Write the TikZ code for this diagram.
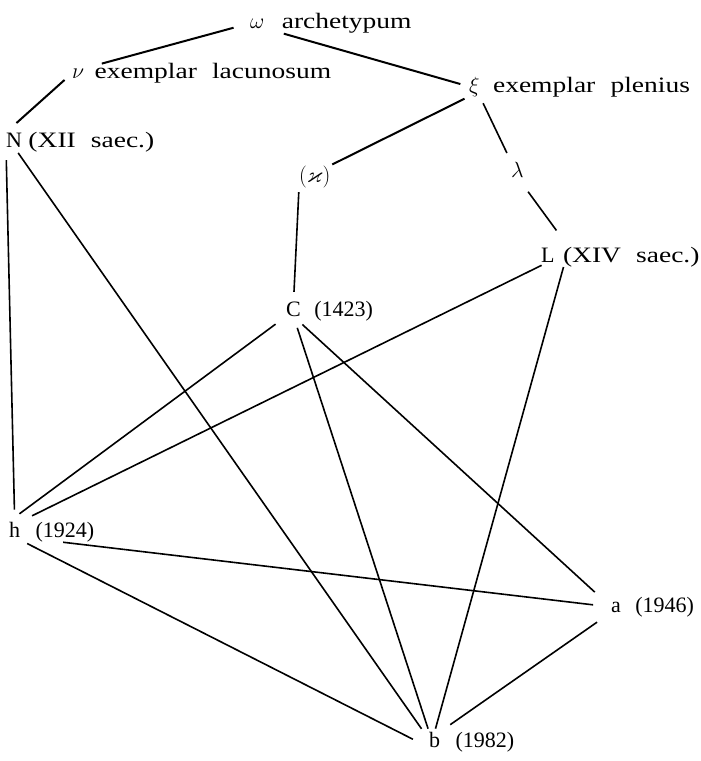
\RequirePackage{fix-cm}
\documentclass[tikz,border=0pt]{standalone}
\usepackage{amssymb}
\usepackage{fontspec}
\setmainfont{Liberation Serif}
\newfontfamily\widefont[FakeStretch=1.25, WordSpace=2.2]{Liberation Serif}
\usetikzlibrary{positioning}

\tikzset{
    sig/.style={inner sep=0pt, anchor=base west, font=\fontsize{22}{26}\selectfont},
    note/.style={inner sep=0pt, anchor=base west, font=\fontsize{22}{26}\widefont},
    year/.style={inner sep=0pt, anchor=base west, font=\fontsize{22}{26}\selectfont},
    edge/.style={line width=1.6pt},
}

\begin{document}
\begin{tikzpicture}[x=1pt, y=-1pt]
    \useasboundingbox (0,0) rectangle (701,761);

    % Draw nodes
    \node[sig] (om) at (250,28) {$\omega$};
    \node[sig] (nu) at (72,78) {$\nu$};
    \node[sig] (xi) at (469,92) {$\xi$};
    \node[sig] (N) at (6,147) {N};
    \node[sig] (ka) at (299,182) {$(\varkappa)$};
    \node[sig] (la) at (511,177) {$\lambda$};
    \node[sig] (L) at (541,262) {L};
    \node[sig] (C) at (286,316) {C};
    \node[sig] (h) at (9,537) {h};
    \node[sig] (a) at (611,612) {a};
    \node[sig] (b) at (429,747) {b};

    % Labels
    \node[note] (omt) at ([xshift=17pt]om.base east) {archetypum};
    \node[note] (nut) at ([xshift=10pt]nu.base east) {exemplar lacunosum};
    \node[note] (xit) at ([xshift=13pt]xi.base east) {exemplar plenius};
    \node[note] (Nt) at ([xshift=6pt]N.base east) {(XII saec.)};
    \node[note] (Lt) at ([xshift=8pt]L.base east) {(XIV saec.)};
    \node[year] (Ct) at ([xshift=13pt]C.base east) {(1423)};
    \node[year] (ht) at ([xshift=15pt]h.base east) {(1924)};
    \node[year] (at) at ([xshift=14pt]a.base east) {(1946)};
    \node[year] (bt) at ([xshift=15pt]b.base east) {(1982)};

    % Draw connections
    \draw[edge, line width=2pt, shorten <=17pt, shorten >=18pt] (om.west) -- (nu.north east);
    \draw[edge, line width=2pt, shorten <=20pt, shorten >=9pt] (om.south east) -- (xi.west);
    \draw[edge, line width=2pt, shorten <=10pt, shorten >=14pt] (nu.west) -- (N.north west);
    \draw[edge, line width=2pt, shorten <=5pt, shorten >=2pt] (xi.south west) -- (ka.north east);
    \draw[edge, shorten <=7.5pt, shorten >=9.5pt] (xi.south east) -- (la.north west);
    \draw[edge, shorten <=18pt, shorten >=21pt] (la.south) -- ([xshift=14pt]L.north east);
    \draw[edge, shorten <=4.5pt, shorten >=9.4pt] (ka.south west) -- (C.north);
    \draw[edge, shorten <=13pt, shorten >=12pt] (N.south west) -- (h.north);
    \draw[edge, shorten <=7pt, shorten >=13pt] (N.south) -- (b.west);
    \draw[edge, shorten <=13pt, shorten >=13pt] (C.south west) -- (h.north west);
    \draw[edge, shorten <=12pt, shorten >=3pt] (C.south) -- (b.north west);
    \draw[edge, shorten <=12pt, shorten >=22pt] (C.south) -- (a.west);
    \draw[edge, shorten <=7pt, shorten >=13pt] (L.south) -- (h.north east);
    \draw[edge, shorten <=5pt, shorten >=3pt] ([xshift=10pt]L.south east) -- (b.north);
    \draw[edge, shorten <=43pt, shorten >=18pt] (h.south east) -- (a.west);
    \draw[edge, shorten <=14pt, shorten >=18pt] (h.south) -- (b.south west);
    \draw[edge, shorten <=17pt, shorten >=12pt] (a.south west) -- (b.north east);
\end{tikzpicture}
\end{document}
